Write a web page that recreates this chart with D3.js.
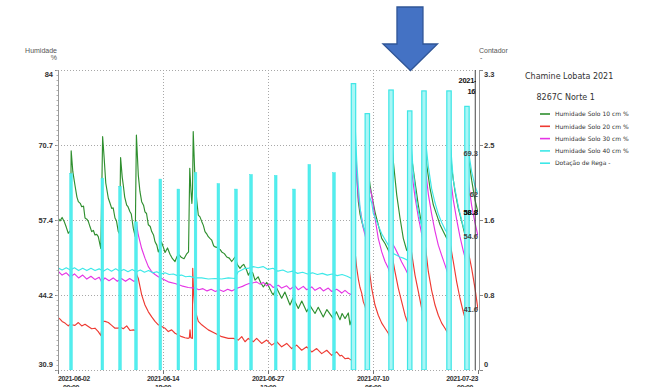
<!DOCTYPE html>
<html><head><meta charset="utf-8">
<script src="https://cdn.jsdelivr.net/npm/d3@7"></script>
<style>
html,body{margin:0;padding:0;background:#fff;}
svg{display:block;font-family:"Liberation Sans",Arial,sans-serif;}
</style></head><body>
<svg id="chart" width="648" height="387"></svg>
<script>
// ---- data: [day offset from 2021-06-02 00:00 UTC, value] ----
const soil10 = [
[0.00,57.8],[0.25,57.3],[0.5,57.9],[0.75,57.2],[1.0,56.2],[1.25,55.1],[1.52,55.6],
[1.6,69.7],[1.8,66.0],[2.06,63.6],[2.3,61.5],[2.47,60.7],[2.7,60.4],[2.88,59.8],[3.1,59.9],[3.28,57.8],[3.5,57.6],[3.68,57.2],[3.9,56.2],[4.09,55.4],[4.3,55.6],[4.49,54.8],[4.7,54.9],[4.89,54.5],[5.2,52.4],
[5.42,72.2],[5.6,68.5],[5.8,64.0],[6.11,61.3],[6.3,60.5],[6.52,59.5],[6.7,59.6],[6.92,57.8],[7.1,57.3],[7.32,55.4],[7.48,55.0],
[7.6,68.5],[7.8,65.0],[7.93,63.6],[8.1,61.5],[8.34,60.1],[8.5,59.8],[8.74,58.9],[8.9,58.5],[9.14,56.0],[9.38,54.5],
[9.52,72.5],[9.75,65.4],[9.95,62.5],[10.16,60.7],[10.4,60.0],[10.56,58.9],[10.75,58.6],[10.97,56.6],[11.2,56.3],[11.38,55.4],[11.6,54.8],[11.78,53.6],[12.0,53.0],[12.18,51.8],[12.4,52.6],[12.55,53.6],[12.8,52.6],[13.0,51.7],[13.3,52.5],[13.6,51.4],[13.9,50.6],[14.21,50.1],[14.45,51.0],[14.69,51.3],[15.0,50.8],[15.3,50.6],[15.6,51.4],[15.85,51.8],
[16.0,66.6],[16.15,62.5],[16.26,60.4],[16.34,63.0],[16.42,73.1],[16.6,66.0],[16.84,61.0],[17.04,58.3],[17.24,58.0],[17.45,57.2],[17.65,56.5],[17.85,55.4],[18.1,54.9],[18.25,54.5],[18.45,54.2],[18.66,53.9],[18.9,52.9],[19.06,52.7],[19.3,52.6],[19.47,52.4],[19.7,52.2],[19.88,51.8],[20.2,51.5],[20.49,50.9],[20.8,50.7],[21.09,50.1],[21.3,50.5],[21.49,50.9],[21.8,49.5],[22.1,48.9],[22.31,49.3],[22.55,49.6],[22.9,48.6],[23.11,47.7],[23.4,48.4],[23.65,48.1],[23.92,46.8],[24.3,47.4],[24.6,46.4],[24.93,45.6],[25.35,46.4],[25.95,44.6],[26.14,44.2],[26.55,45.4],[27.16,43.6],[27.55,44.7],[28.17,42.4],[28.55,43.7],[29.18,41.8],[29.6,43.1],[30.2,41.2],[30.6,42.3],[31.21,40.9],[31.6,42.0],[32.21,40.3],[32.65,41.6],[33.43,40.0],[33.8,41.2],[34.24,39.8],[34.5,40.9],[34.85,40.0],[35.25,41.0],[35.46,38.9],[35.7,40.1],
[35.92,75.7],[36.06,71.0],[36.27,65.4],[36.47,60.7],[36.67,58.5],[36.88,57.2],[37.07,56.2],[37.28,55.4],[37.5,53.9],
[37.6,74.4],[37.68,66.0],[37.9,63.5],[38.09,61.9],[38.49,58.9],[38.89,56.6],[39.31,54.2],[39.71,53.3],[40.11,52.1],[40.38,51.3],
[40.48,73.7],[40.72,67.8],[41.13,61.9],[41.53,57.8],[41.93,54.2],[42.34,52.1],[42.62,51.8],
[42.72,74.0],[42.95,68.4],[43.35,64.2],[43.75,60.1],[44.16,56.6],[44.38,55.7],
[44.48,73.7],[44.77,67.2],[45.17,63.1],[45.58,60.1],[45.98,58.4],[46.39,56.6],[46.79,55.4],[47.2,54.2],[47.42,53.9],
[47.52,74.0],[47.81,66.6],[48.21,62.5],[48.61,59.5],[49.02,57.2],[49.42,54.8],[49.62,53.6],
[49.72,70.8],[49.9,68.0],[50.23,64.5],[50.63,61.0],[51.0,58.8]
];
const soil20 = [
[0.0,40.2],[0.25,39.9],[0.5,39.5],[0.85,39.2],[1.25,38.7],[1.46,39.0],[1.66,38.9],[2.06,38.8],[2.47,39.3],[2.88,38.7],[3.28,39.0],[3.68,38.6],[4.09,38.2],[4.49,38.3],[4.89,37.7],[5.2,37.0],
[5.45,39.5],[5.71,39.5],[6.11,39.3],[6.52,38.8],[6.92,38.3],[7.32,38.3],[7.53,38.5],[7.93,38.2],[8.34,38.7],[8.74,37.9],[9.14,38.0],[9.42,37.9],
[9.52,47.9],[9.75,47.1],[10.16,44.2],[10.56,42.4],[10.97,41.2],[11.38,40.3],[11.78,39.5],[12.18,38.9],[12.6,38.6],[12.99,38.3],[13.39,37.7],[13.8,38.0],[14.21,37.4],[14.61,37.1],[15.02,36.8],[15.42,36.6],[15.82,36.5],[15.95,36.6],[16.03,38.0],[16.12,36.6],[16.32,36.5],
[16.36,48.9],[16.45,45.0],[16.64,41.5],[17.04,39.5],[17.45,38.9],[18.25,38.0],[19.06,37.4],[19.88,36.8],[20.68,36.5],[21.3,36.5],[21.89,36.2],[22.31,36.8],[22.71,35.9],[23.11,36.5],[23.71,35.9],[24.12,36.5],[24.73,35.6],[25.34,36.2],[25.95,35.3],[26.56,35.9],[27.16,35.0],[27.77,35.6],[28.38,34.7],[28.98,35.3],[29.59,34.4],[30.2,35.0],[30.81,34.1],[31.41,34.7],[32.02,33.8],[32.63,34.4],[33.24,33.5],[33.84,34.1],[34.24,33.4],[34.45,33.5],[34.85,32.9],[35.25,33.0],[35.66,32.6],[35.85,32.6],
[35.93,53.5],[36.06,52.0],[36.27,49.0],[36.47,47.0],[36.67,45.5],[36.88,44.5],[37.07,43.0],[37.28,42.2],[37.5,41.0],
[37.6,51.5],[37.68,50.0],[38.09,45.4],[38.49,42.4],[38.89,40.6],[39.31,39.2],[39.71,38.3],[40.11,37.4],[40.38,36.4],
[40.48,52.0],[40.59,51.0],[40.92,48.3],[41.32,45.4],[41.73,43.0],[42.14,40.6],[42.62,38.6],
[42.72,53.0],[42.86,52.4],[43.35,47.7],[43.75,44.8],[44.16,41.8],[44.38,40.7],
[44.48,54.0],[44.6,53.0],[44.97,48.3],[45.37,45.0],[45.78,42.4],[46.18,40.6],[46.59,39.2],[46.99,38.3],[47.42,37.2],
[47.52,54.0],[47.65,53.0],[48.0,50.1],[48.41,46.5],[48.81,43.6],[49.21,41.2],[49.62,39.1],
[49.72,53.0],[49.8,52.0],[50.23,48.9],[50.63,45.4],[51.0,41.6]
];
const soil30 = [
[0.0,48.4],[0.5,47.7],[1.0,48.1],[1.5,47.4],[2.0,47.9],[2.5,47.2],[3.0,47.7],[3.5,47.0],[4.0,47.5],[4.5,46.9],[5.0,47.3],[5.3,46.5],[5.7,47.2],[6.2,46.7],[6.7,47.2],[7.2,46.6],[7.7,47.1],[8.2,46.6],[8.7,47.1],[9.2,46.6],[9.42,46.7],
[9.52,56.9],[9.75,54.8],[10.16,52.4],[10.56,50.7],[10.97,49.2],[11.38,48.3],[11.78,47.8],[12.18,47.4],[12.6,47.1],[13.39,46.5],[14.2,46.2],[15.02,45.8],[15.82,45.5],[16.64,45.4],[17.1,45.1],[17.6,45.3],[18.1,44.9],[18.6,45.2],[19.1,44.8],[19.6,45.1],[20.1,44.8],[20.6,45.2],[21.1,44.9],[21.6,45.3],[22.0,45.5],[22.4,45.7],[22.8,46.0],[23.2,46.2],[23.6,46.3],[24.1,46.5],[24.53,46.1],[24.93,46.4],[25.34,45.8],[25.74,46.1],[26.14,45.5],[26.75,45.9],[27.16,45.4],[27.77,45.8],[28.17,45.2],[28.78,45.8],[29.18,45.1],[29.79,45.7],[30.2,45.1],[30.81,45.6],[31.21,45.0],[31.81,45.5],[32.22,44.9],[32.82,45.4],[33.24,44.8],[33.84,45.2],[34.24,44.8],[34.45,44.5],[34.85,45.0],[35.25,44.5],[35.66,44.2],[35.85,44.2],
[35.93,74.0],[36.06,70.0],[36.27,65.4],[36.47,61.5],[36.67,59.5],[36.88,57.8],[37.07,56.0],[37.28,54.8],[37.5,53.4],
[37.6,66.0],[37.68,64.0],[38.09,61.9],[38.49,57.8],[38.89,54.2],[39.31,51.8],[39.71,50.1],[40.11,48.9],[40.38,47.6],
[40.48,53.6],[40.92,52.5],[41.32,51.3],[41.73,50.0],[42.14,48.9],[42.62,47.5],
[42.72,70.0],[42.95,66.0],[43.35,61.5],[43.75,58.0],[44.16,55.0],[44.38,53.2],
[44.48,69.0],[44.7,65.5],[44.97,62.0],[45.37,58.5],[45.78,55.5],[46.18,53.0],[46.59,51.2],[46.99,49.5],[47.42,47.6],
[47.52,68.0],[47.7,64.5],[48.0,61.0],[48.41,57.5],[48.81,54.5],[49.21,52.0],[49.62,49.8],
[49.72,66.0],[49.9,63.5],[50.23,60.0],[50.63,57.0],[51.0,54.6]
];
const soil40 = [
[0.0,49.0],[0.5,48.6],[1.0,49.0],[1.5,48.6],[2.0,49.0],[2.5,48.5],[3.0,48.9],[3.5,48.5],[4.0,48.9],[4.5,48.5],[5.0,48.8],[5.5,48.4],[6.0,48.8],[6.5,48.4],[7.0,48.8],[7.5,48.4],[8.0,48.7],[8.5,48.3],[9.0,48.7],[9.5,48.3],[10.0,48.6],[10.5,48.2],[11.0,48.5],[11.5,48.1],[12.0,48.3],[12.5,47.9],[13.0,48.1],[13.5,47.8],[14.0,47.9],[14.5,47.6],[15.0,47.7],[15.5,47.4],[16.0,47.5],[16.64,47.2],[17.45,47.2],[18.25,47.0],[19.06,47.1],[19.88,47.0],[20.68,47.2],[21.49,47.1],[21.7,47.8],[21.89,48.3],[22.31,48.6],[22.71,48.9],[23.11,48.9],[23.71,49.2],[24.3,49.0],[24.9,49.2],[25.5,48.7],[26.1,48.9],[26.7,48.4],[27.3,48.6],[27.9,48.2],[28.5,48.4],[29.1,48.0],[29.7,48.2],[30.3,47.9],[30.9,48.1],[31.5,47.8],[32.1,48.0],[32.7,47.7],[33.3,47.9],[33.9,47.6],[34.5,47.8],[35.1,47.5],[35.66,47.1],[35.85,47.0],
[35.93,79.5],[36.06,75.0],[36.27,68.0],[36.47,63.5],[36.67,59.8],[36.88,57.5],[37.07,56.3],[37.28,55.5],[37.5,55.0],
[37.6,63.0],[37.68,62.2],[38.09,60.5],[38.29,58.6],[38.89,56.5],[39.31,55.0],[39.71,54.0],[40.11,53.0],[40.44,52.6],[40.72,51.5],[41.13,51.2],[41.53,50.9],[41.93,50.7],[42.34,50.4],[42.62,50.1],
[42.72,73.0],[42.86,71.6],[43.14,66.0],[43.56,60.5],[43.96,57.4],[44.38,55.3],
[44.48,75.0],[44.6,72.0],[44.97,66.9],[45.37,63.0],[45.78,60.5],[46.18,58.5],[46.59,57.0],[46.99,55.8],[47.42,54.8],
[47.52,74.0],[47.65,71.0],[48.0,64.5],[48.61,59.8],[49.21,56.3],[49.62,54.5],
[49.72,72.0],[49.81,70.0],[50.23,66.0],[50.63,63.5],[51.0,62.0]
];
// irrigation events (Dotação de Rega, right axis)
const regaDays   = [1.58,5.38,7.53,9.47,12.42,14.61,16.7,19.47,21.61,23.44,26.44,28.66,30.51,33.51,35.88,37.56,40.44,42.71,44.44,47.48,49.66];
const regaValues = [2.16,2.11,2.02,1.63,2.10,1.99,2.17,2.05,1.99,2.15,2.14,1.99,2.26,2.17,3.15,2.82,3.08,2.85,3.07,3.07,2.90];

// axes
const leftTickValues  = [30.9, 44.175, 57.45, 70.725, 84];
const leftTickLabels  = ["30.9","44.2","57.4","70.7","84"];
const rightTickValues = [0, 0.825, 1.65, 2.475, 3.3];
const rightTickLabels = ["0","0.8","1.6","2.5","3.3"];
const xTickDates = ["2021-06-02T00:00Z","2021-06-14T18:00Z","2021-06-27T12:00Z","2021-07-10T06:00Z","2021-07-23T00:00Z"];

// cursor read-out
const cursorTime   = "2021-07-22T16:00Z";
const cursorValues = [69.3, 62, 58.8, 58.8, 54.6, 41.6];

const seriesNames  = ["Humidade Solo 10 cm %","Humidade Solo 20 cm %","Humidade Solo 30 cm %","Humidade Solo 40 cm %","Dotação de Rega -"];
const chartTitle = "Chamine Lobata 2021";
const stationName = "8267C Norte 1";

// ---- drawing ----
const svg = d3.select("#chart");
const P = {left:58, right:478, top:70, bottom:370};
const t0 = Date.UTC(2021,5,2);
const toDate = d => new Date(t0 + d*864e5);

const x  = d3.scaleUtc().domain([new Date(xTickDates[0]), new Date(xTickDates[4])]).range([P.left, P.right]);
const yL = d3.scaleLinear().domain([30.9, 84]).range([P.bottom, P.top]);
const yR = d3.scaleLinear().domain([0, 3.3]).range([P.bottom, P.top]);

const colors = ["#2f8f2f","#ee3a32","#e535e5","#3de8e8","#3de8e8"];

const defs = svg.append("defs");
defs.append("clipPath").attr("id","plot")
  .append("rect").attr("x",P.left).attr("y",P.top).attr("width",P.right-P.left).attr("height",P.bottom-P.top);
defs.append("clipPath").attr("id","cursorClip")
  .append("rect").attr("x",P.left).attr("y",0).attr("width",418).attr("height",P.bottom);

// grid
const grid = svg.append("g").attr("stroke","#a8a8a8").attr("stroke-dasharray","1,2").attr("stroke-width",1);
leftTickValues.forEach(v => grid.append("line")
  .attr("x1",P.left).attr("x2",P.right).attr("y1",Math.round(yL(v))+0.5).attr("y2",Math.round(yL(v))+0.5));
xTickDates.slice(1,4).forEach(s => grid.append("line")
  .attr("x1",Math.round(x(new Date(s)))+0.5).attr("x2",Math.round(x(new Date(s)))+0.5)
  .attr("y1",P.top).attr("y2",P.bottom));

// series lines
const line = d3.line().x(p => x(toDate(p[0]))).y(p => yL(p[1]));
const plot = svg.append("g").attr("clip-path","url(#plot)");
[soil10, soil20, soil30, soil40].forEach((s,i) => {
  plot.append("path").datum(s).attr("d",line)
    .attr("fill","none").attr("stroke",colors[i]).attr("stroke-width",1.15)
    .attr("stroke-linejoin","round");
});

// irrigation bars
const wideFrom = 35;
const bars = regaDays.map((d,i) => ({d, v: regaValues[i]}));
plot.selectAll("rect.rega").data(bars).join("rect")
  .attr("class","rega")
  .attr("x", b => x(toDate(b.d)) - (b.d > wideFrom ? 2.2 : 1.3))
  .attr("width", b => b.d > wideFrom ? 4.4 : 2.6)
  .attr("y", b => yR(b.v))
  .attr("height", b => yR(0) - yR(b.v))
  .attr("fill", b => b.d > wideFrom ? "#a9f6f6" : "#52eeee")
  .attr("stroke", "#3de6e6")
  .attr("stroke-width", b => b.d > wideFrom ? 1.2 : 0.5);

// cursor line and read-out
const cx = x(new Date(cursorTime));
svg.append("line").attr("x1",cx).attr("x2",cx).attr("y1",P.top).attr("y2",P.bottom)
  .attr("stroke","#444").attr("stroke-width",1);
const ro = svg.append("g").attr("clip-path","url(#cursorClip)")
  .attr("font-weight","bold").attr("font-size",7.5).attr("fill","#111")
  .attr("text-anchor","middle").attr("letter-spacing","-0.3");
ro.append("text").attr("x",cx+1).attr("y",P.top+12.5).text(d3.utcFormat("%Y-%m-%d")(new Date(cursorTime)));
ro.append("text").attr("x",cx+1).attr("y",P.top+23.5).text(d3.utcFormat("%H:%M")(new Date(cursorTime)));
svg.append("g").attr("font-weight","bold").attr("font-size",7.5).attr("text-anchor","end")
  .selectAll("text").data(cursorValues).join("text")
  .attr("x",P.right).attr("y",v => yL(v)+2.7)
  .attr("fill",(v,i) => (i===2||i===3) ? "#111" : "#444")
  .text(v => v);

// left axis
svg.append("line").attr("x1",P.left+0.5).attr("x2",P.left+0.5).attr("y1",P.top).attr("y2",P.bottom)
  .attr("stroke","#9a9a9a");
const la = svg.append("g").attr("font-size",7.5).attr("font-weight","bold").attr("fill","#333").attr("text-anchor","end");
leftTickValues.forEach((v,i) => {
  const yy = yL(v);
  svg.append("line").attr("x1",P.left-3).attr("x2",P.left).attr("y1",Math.round(yy)+0.5).attr("y2",Math.round(yy)+0.5).attr("stroke","#888");
  const off = i===0 ? -6 : (i===4 ? 4 : 0);
  la.append("text").attr("x",P.left-5).attr("y",yy+off+2.7).text(leftTickLabels[i]);
});
// minor ticks on the left axis
d3.range(0,61).forEach(k => {
  const yy = P.top + k*5;
  svg.append("line").attr("x1",P.left-1.5).attr("x2",P.left).attr("y1",yy+0.5).attr("y2",yy+0.5).attr("stroke","#b0b0b0");
});

// right axis
svg.append("line").attr("x1",P.right+1.5).attr("x2",P.right+1.5).attr("y1",P.top).attr("y2",P.bottom)
  .attr("stroke","#9a9a9a");
const ra = svg.append("g").attr("font-size",7.5).attr("font-weight","bold").attr("fill","#333");
rightTickValues.forEach((v,i) => {
  const yy = yR(v);
  svg.append("line").attr("x1",P.right+1.5).attr("x2",P.right+5).attr("y1",Math.round(yy)+0.5).attr("y2",Math.round(yy)+0.5).attr("stroke","#888");
  const off = i===0 ? -6 : (i===4 ? 4 : 0);
  ra.append("text").attr("x",P.right+6).attr("y",yy+off+2.7).text(rightTickLabels[i]);
});

// bottom axis
const xa = d3.axisBottom(x).tickValues(xTickDates.map(s => new Date(s))).tickSize(4).tickFormat("");
const xg = svg.append("g").attr("transform",`translate(0,${P.bottom})`).call(xa);
xg.select(".domain").attr("stroke","#a8a8a8").attr("stroke-dasharray","1,2");
xg.selectAll(".tick line").attr("stroke","#777");
const fDate = d3.utcFormat("%Y-%m-%d"), fTime = d3.utcFormat("%H:%M");
const xl = svg.append("g").attr("font-size",7).attr("font-weight","bold").attr("fill","#333").attr("letter-spacing","-0.4");
xTickDates.forEach((s,i) => {
  const dt = new Date(s), xx = x(dt);
  const anchor = i===0 ? "start" : (i===xTickDates.length-1 ? "end" : "middle");
  xl.append("text").attr("x",xx).attr("y",380.5).attr("text-anchor",anchor).text(fDate(dt));
  xl.append("text").attr("x", i===0 ? xx+5 : (i===xTickDates.length-1 ? xx-5 : xx)).attr("y",389.5).attr("text-anchor",anchor).text(fTime(dt));
});

// axis titles
const at = svg.append("g").attr("font-size",7).attr("fill","#555");
at.append("text").attr("x",P.left-1).attr("y",52.5).attr("text-anchor","end").text("Humidade");
at.append("text").attr("x",P.left-1).attr("y",59.5).attr("text-anchor","end").text("%");
at.append("text").attr("x",P.right+1).attr("y",52.5).text("Contador");
at.append("text").attr("x",P.right+2).attr("y",59.5).text("-");

// legend
const lg = svg.append("g").attr("font-family","'DejaVu Sans',Verdana,sans-serif").attr("fill","#333");
lg.append("text").attr("x",525).attr("y",78.5).attr("font-size",8).text(chartTitle);
lg.append("text").attr("x",536.5).attr("y",99.5).attr("font-size",8).text(stationName);
seriesNames.forEach((n,i) => {
  const yy = 114 + i*12.3;
  lg.append("line").attr("x1",540).attr("x2",550).attr("y1",yy).attr("y2",yy)
    .attr("stroke",colors[i]).attr("stroke-width",1.6);
  lg.append("text").attr("x",555).attr("y",yy+2.2).attr("font-size",6).text(n);
});

// arrow marker pointing at an irrigation event
const tipX = x(toDate(42.8)), tipY = P.top + 0.5;
const arrow = [[-13.5,-63.5],[12.5,-63.5],[12.5,-26.5],[27,-26.5],[0,0],[-27.5,-26.5],[-13.5,-26.5]];
svg.append("path")
  .attr("d", d3.line()(arrow.map(p => [tipX+p[0], tipY+p[1]])) + "Z")
  .attr("fill","#4472c4").attr("stroke","#2f5597").attr("stroke-width",1.3).attr("stroke-linejoin","miter");
</script>
</body></html>
